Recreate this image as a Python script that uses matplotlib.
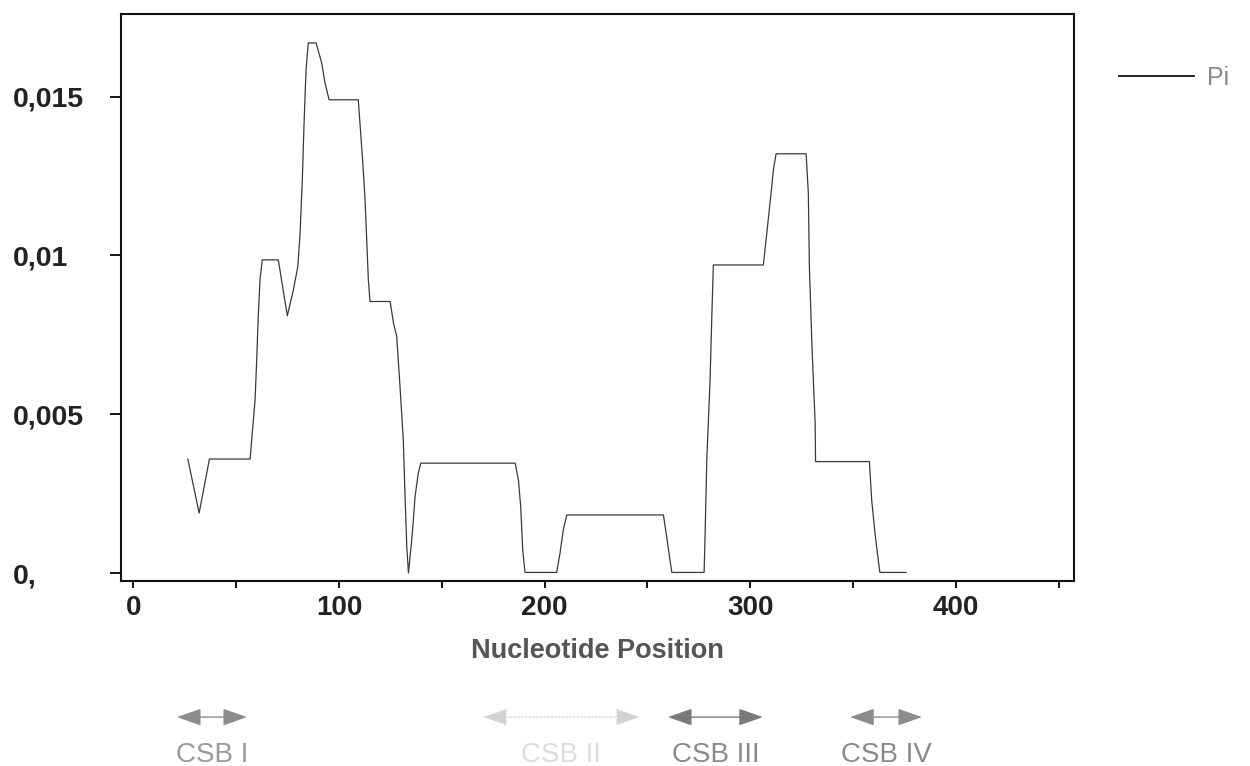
import matplotlib
matplotlib.use("Agg")
import matplotlib.pyplot as plt

# ---- data ----
position = [26.5, 32.0, 37.0, 56.8, 57.7, 59.2, 60.0, 60.7, 61.6, 62.7, 70.5,
            74.9, 77.8, 80.0, 81.1, 82.2, 83.0, 84.0, 85.1, 88.9, 91.6, 93.2,
            95.2, 109.4, 110.2, 111.6, 112.7, 113.5, 114.3, 115.1, 124.9, 126.5,
            128.1, 129.7, 131.3, 132.1, 133.0, 133.8, 135.4, 136.2, 137.0, 138.6,
            139.8, 185.7, 187.3, 188.4, 189.4, 190.5, 205.9, 207.5, 209.1, 210.8,
            257.8, 259.4, 261.0, 261.9, 277.6, 278.1, 278.9, 280.5, 281.3, 282.1,
            306.4, 308.1, 309.3, 310.5, 311.3, 312.6, 327.2, 328.3, 328.8, 330.0,
            331.6, 331.8, 358.0, 359.1, 360.7, 362.3, 363.1, 375.8]
pi_values = [0.00359, 0.00189, 0.00359, 0.00359, 0.0043, 0.00545, 0.0067, 0.0080,
             0.00923, 0.00986, 0.00986, 0.0081, 0.0089, 0.00965, 0.0107, 0.0124,
             0.0141, 0.01585, 0.01669, 0.01669, 0.01606, 0.01544, 0.0149, 0.0149,
             0.01418, 0.01292, 0.01175, 0.0105, 0.00923, 0.00855, 0.00855, 0.00788,
             0.00745, 0.00587, 0.00419, 0.00252, 0.00083, 0.0, 0.00104, 0.00167,
             0.0024, 0.00315, 0.00346, 0.00346, 0.00293, 0.00209, 0.00072, 0.00002,
             0.00002, 0.00062, 0.00135, 0.00183, 0.00183, 0.00114, 0.00041, 0.00002,
             0.00002, 0.00126, 0.00356, 0.00608, 0.00797, 0.0097, 0.0097, 0.0107,
             0.01144, 0.01217, 0.0127, 0.0132, 0.0132, 0.01196, 0.00965, 0.00724,
             0.00472, 0.00351, 0.00351, 0.0023, 0.00126, 0.00041, 0.00002, 0.00002]

y_ticks = [0.0, 0.005, 0.01, 0.015]
y_tick_labels = ["0,", "0,005", "0,01", "0,015"]
x_ticks = [0, 100, 200, 300, 400]
x_tick_labels = ["0", "100", "200", "300", "400"]
x_minor_ticks = [50, 150, 250, 350, 450]

csb_labels = ["CSB I", "CSB II", "CSB III", "CSB IV"]
csb_start = [21.2, 170.0, 260.0, 348.6]
csb_end = [55.3, 246.4, 306.2, 383.6]
csb_colors = ["#8c8c8c", "#d2d2d2", "#7a7a7a", "#8c8c8c"]
csb_text_colors = ["#9a9a9a", "#dcdcdc", "#8a8a8a", "#8a8a8a"]
csb_styles = ["-", ":", "-", "-"]

# ---- figure ----
fig = plt.figure(figsize=(12.5, 7.66), dpi=100)
ax = fig.add_axes([0.0968, 0.2415, 0.7624, 0.7402])

line, = ax.plot(position, pi_values, color="#3a3a3a", lw=0.9, label="Pi")

ax.set_xlim(-6, 457.5)
ax.set_ylim(-0.00025, 0.0176)

for s in ax.spines.values():
    s.set_linewidth(1.5)
    s.set_color("#111111")

ax.set_yticks(y_ticks)
ax.set_yticklabels(y_tick_labels, fontfamily="Liberation Sans",
                   fontweight="bold", fontsize=20.5, color="#222222")
for lab in ax.get_yticklabels():
    lab.set_horizontalalignment("left")
ax.tick_params(axis="y", direction="out", length=8, width=1.3, pad=70)

ax.set_xticks(x_ticks)
ax.set_xticklabels(x_tick_labels, fontfamily="Liberation Sans",
                   fontweight="bold", fontsize=20, color="#222222")
ax.set_xticks(x_minor_ticks, minor=True)
ax.tick_params(axis="x", which="both", direction="out", length=5, width=1.3, pad=5)

ax.set_xlabel("Nucleotide Position", fontfamily="Liberation Sans",
              fontweight="bold", fontsize=19.5, color="#555555", labelpad=12)

# legend
leg = fig.legend(handles=[line], labels=["Pi"], loc="upper left",
                 bbox_to_anchor=(0.8768, 0.943), frameon=False,
                 handlelength=3.0, handletextpad=0.55,
                 prop={"family": "Liberation Sans", "size": 18})
for t in leg.get_texts():
    t.set_color("#888888")
for h in leg.get_lines():
    h.set_color("#111111")
    h.set_linewidth(1.3)

# CSB region arrows below the axis
trans = ax.get_xaxis_transform()
for lab, x0, x1, c, tc, ls in zip(csb_labels, csb_start, csb_end,
                                  csb_colors, csb_text_colors, csb_styles):
    ax.annotate("", xy=(x1, -0.24), xytext=(x0, -0.24),
                xycoords=trans, textcoords=trans, annotation_clip=False,
                arrowprops=dict(arrowstyle="<|-|>,head_length=1.0,head_width=0.35",
                                color=c, lw=1.0, linestyle=ls,
                                shrinkA=0, shrinkB=0, mutation_scale=15))
    ax.text((x0 + x1) / 2, -0.306, lab, transform=trans, ha="center",
            va="center", fontfamily="Liberation Sans", fontsize=20,
            color=tc, clip_on=False)

fig.savefig("out.png", dpi=100)
